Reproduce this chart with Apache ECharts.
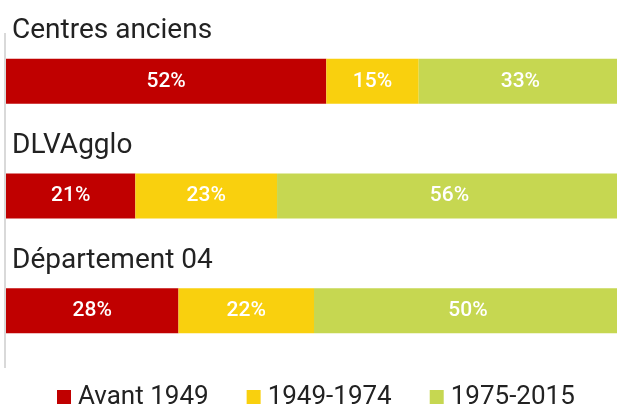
<!DOCTYPE html>
<html>
<head>
<meta charset="utf-8">
<script src="https://cdn.jsdelivr.net/npm/echarts@6/dist/echarts.min.js"></script>
<style>
  html, body { margin: 0; padding: 0; background: #fff; }
  #chart { width: 617px; height: 408px; }
</style>
</head>
<body>
<div id="chart"></div>
<script>
// Territories, top to bottom
const categories = ['Centres anciens', 'DLVAgglo', 'Département 04'];
// Share of dwellings by construction period (%)
const seriesNames = ['Avant 1949', '1949-1974', '1975-2015'];
const avant1949 = [52, 21, 28];
const p1949_1974 = [15, 23, 22];
const p1975_2015 = [33, 56, 50];
const colors = ['#c00000', '#f9d00e', '#c6d751'];

const values = [avant1949, p1949_1974, p1975_2015];

const chart = echarts.init(document.getElementById('chart'), null, { renderer: 'canvas' });

const font = 'Roboto, "Noto Sans", sans-serif';

chart.setOption({
  animation: false,
  grid: { left: 6, width: 616, top: 24, bottom: 40, outerBoundsMode: 'none', containLabel: false },
  xAxis: {
    type: 'value', min: 0, max: 100,
    show: false
  },
  yAxis: {
    type: 'category',
    data: categories,
    inverse: true,
    axisLine: { show: false },
    axisTick: { show: false },
    axisLabel: {
      show: true,
      interval: 0,
      hideOverlap: false,
      inside: true,
      margin: 6,
      align: 'left',
      verticalAlign: 'middle',
      // category name sits above its bar: an empty spacer line below pushes it up
      formatter: (v) => '{t|' + v + '}\n{gap|}',
      rich: {
        t: { fontFamily: font, fontSize: 28, lineHeight: 30, color: '#222' },
        gap: { height: 100, lineHeight: 100 }
      }
    },
    z: 10
  },
  legend: {
    data: seriesNames,
    top: 379,
    left: 52,
    padding: 5,
    itemWidth: 14,
    itemHeight: 14,
    itemGap: 38,
    icon: 'rect',
    textStyle: { fontFamily: font, fontSize: 26, color: '#222', padding: [0, 0, 0, 2] }
  },
  graphic: [{
    type: 'line',
    shape: { x1: 5, y1: 33, x2: 5, y2: 368 },
    style: { stroke: '#d9d9d9', lineWidth: 2 },
    silent: true
  }],
  series: seriesNames.map((name, i) => ({
    name,
    type: 'bar',
    stack: 'total',
    barWidth: 45,
    data: values[i],
    itemStyle: { color: colors[i] },
    label: {
      show: true,
      position: 'inside',
      formatter: '{c}%',
      color: '#fff',
      fontFamily: font,
      fontWeight: 500,
      fontSize: 21
    }
  }))
});
</script>
</body>
</html>
